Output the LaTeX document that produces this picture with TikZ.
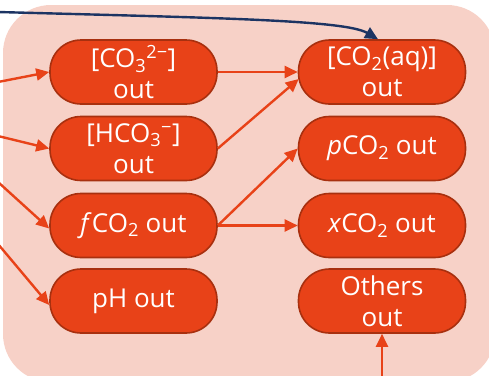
\documentclass[tikz,border=0pt]{standalone}
\usepackage{fontspec}
\setmainfont{Open Sans}
\usetikzlibrary{arrows.meta}
\definecolor{panel}{HTML}{F7D1C7}
\definecolor{boxfill}{HTML}{E84218}
\definecolor{boxline}{HTML}{A8300F}
\definecolor{navy}{HTML}{1C3463}
\begin{document}
\begin{tikzpicture}[x=1pt,y=-1pt,
  box/.style={draw=boxline, line width=1.6pt, fill=boxfill, rounded corners=31pt,
    minimum width=167pt, minimum height=64pt, inner sep=0pt, align=center,
    text=white, font=\fontsize{26}{31}\selectfont},
  oarrow/.style={draw=boxfill, line width=2.4pt, -{Triangle[length=13pt,width=12pt]}},
  narrow/.style={draw=navy, line width=2.4pt, -{Triangle[length=13pt,width=12pt]}}]
\useasboundingbox (0,0) rectangle (489,375);
\fill[panel, rounded corners=48pt] (3,5) rectangle (495,382);
\node[box] (co3) at (133.5,72) {[CO\textsubscript{3}\textsuperscript{2−}]\\out};
\node[box] (hco3) at (133.5,148.5) {[HCO\textsubscript{3}\textsuperscript{−}]\\out};
\node[box] (fco2) at (133.5,225.5) {\textit{f}CO\textsubscript{2} out};
\node[box] (ph) at (133.5,301) {pH out};
\node[box] (co2aq) at (382,72) {[CO\textsubscript{2}(aq)]\\out};
\node[box] (pco2) at (382,148.5) {\textit{p}CO\textsubscript{2} out};
\node[box] (xco2) at (382,225.5) {\textit{x}CO\textsubscript{2} out};
\node[box] (oth) at (382,301) {Others\\out};
\coordinate (n0) at (-2,12);
\coordinate (i1) at (-2,82);
\coordinate (i2) at (-2,136);
\coordinate (i3) at (-2,182);
\coordinate (i4) at (-2,244);
\coordinate (ob) at (382,378);
\draw[narrow] (n0) .. controls (220,18) and (345,20) .. ([xshift=-4pt]co2aq.north);
\draw[oarrow] (i1) -- (co3.west);
\draw[oarrow] (i2) -- (hco3.west);
\draw[oarrow] (i3) -- ([yshift=-3pt]fco2.west);
\draw[oarrow] (i4) -- ([yshift=-4pt]ph.west);
\draw[oarrow] (co3.east) -- (co2aq.west);
\draw[oarrow] (hco3.east) -- ([xshift=1pt,yshift=-7pt]co2aq.west);
\draw[oarrow] (fco2.east) -- (pco2.west);
\draw[oarrow] (fco2.east) -- (xco2.west);
\draw[oarrow] (ob) -- (oth.south);
\end{tikzpicture}
\end{document}
